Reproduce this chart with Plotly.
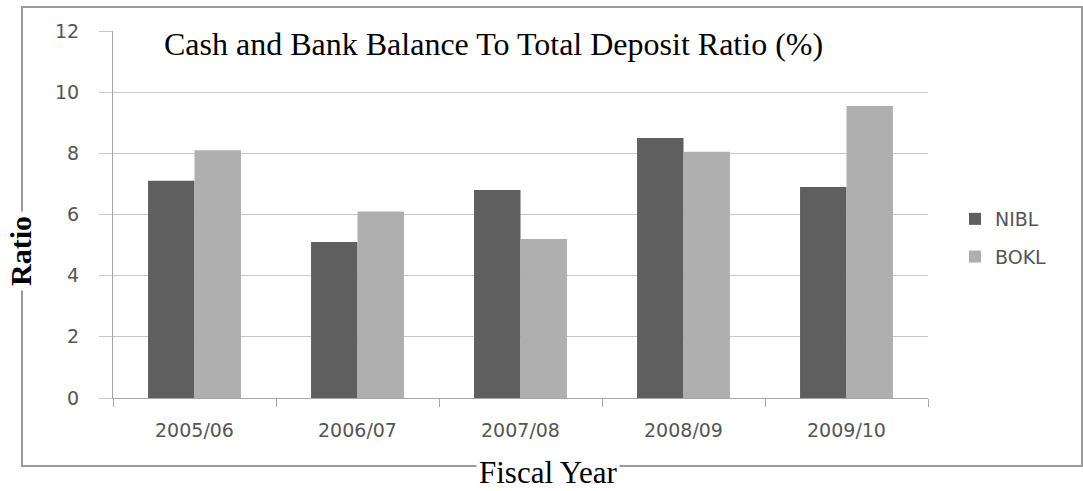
import plotly.graph_objects as go

# Fiscal years and cash-and-bank-balance to total-deposit ratios (%)
years = ["2005/06", "2006/07", "2007/08", "2008/09", "2009/10"]
nibl = [7.1, 5.1, 6.8, 8.5, 6.9]
bokl = [8.1, 6.1, 5.2, 8.05, 9.55]
y_ticks = [0, 2, 4, 6, 8, 10, 12]

W, H = 1083, 491
M_L, M_R, M_T, M_B = 113, 155, 31, 93
PW, PH = W - M_L - M_R, H - M_T - M_B


def px_x(p):
    return (p - M_L) / PW


def px_y(p):
    return (H - M_B - p) / PH


tick_font = dict(family="DejaVu Sans", size=19, color="#555555")
serif = "Liberation Serif, Times New Roman, serif"

fig = go.Figure()
fig.add_trace(go.Bar(name="NIBL", x=years, y=nibl, marker=dict(color="#5f5f5f", line=dict(width=0)),
                     legendgroup="a"))
fig.add_trace(go.Bar(name="BOKL", x=years, y=bokl, marker=dict(color="#afafaf", line=dict(width=0)),
                     legendgroup="b"))

fig.update_layout(
    width=W, height=H,
    margin=dict(l=M_L, r=M_R, t=M_T, b=M_B, pad=0),
    paper_bgcolor="white", plot_bgcolor="white",
    barmode="group", bargap=0.43, bargroupgap=0,
    showlegend=True,
    legend=dict(x=px_x(955), y=px_y(200), xanchor="left", yanchor="top",
                font=tick_font, tracegroupgap=10, bgcolor="rgba(0,0,0,0)"),
    xaxis=dict(showgrid=False, showline=True, linecolor="#a6a6a6", linewidth=1,
               ticks="outside", tickson="boundaries", ticklen=8, tickcolor="#a6a6a6",
               tickfont=tick_font, ticklabelstandoff=15),
    yaxis=dict(range=[0, 12], tickvals=y_ticks, showgrid=True, gridcolor="#c6c6c6", gridwidth=1,
               showline=True, linecolor="#a6a6a6", linewidth=1, zeroline=False,
               ticks="outside", ticklen=13, tickcolor="#c6c6c6",
               tickfont=tick_font, ticklabelstandoff=16),
)

# Outer frame around the chart
fig.add_shape(type="rect", xref="paper", yref="paper",
              x0=px_x(22), x1=px_x(1082), y0=px_y(466), y1=px_y(7),
              line=dict(color="#9a9a9a", width=2), fillcolor="rgba(0,0,0,0)", layer="above")

# White strip behind the title, hiding the top gridline
fig.add_shape(type="rect", xref="paper", yref="paper",
              x0=px_x(140), x1=px_x(935), y0=px_y(70), y1=px_y(10),
              line=dict(width=0), fillcolor="white", layer="above")

fig.add_annotation(text="Cash and Bank Balance To Total Deposit Ratio (%)",
                   xref="paper", yref="paper", x=px_x(493), y=px_y(44),
                   showarrow=False, font=dict(family=serif, size=32, color="black"),
                   xanchor="center", yanchor="middle")

fig.add_annotation(text="Fiscal Year", xref="paper", yref="paper", x=px_x(548), y=px_y(472),
                   showarrow=False, font=dict(family=serif, size=31, color="black"),
                   bgcolor="white", borderpad=2, xanchor="center", yanchor="middle")

fig.add_annotation(text="<b>Ratio</b>", xref="paper", yref="paper", x=px_x(20), y=px_y(251),
                   showarrow=False, textangle=-90, font=dict(family=serif, size=30, color="black"),
                   bgcolor="white", borderpad=4, xanchor="center", yanchor="middle")

fig.write_html("out.html")
